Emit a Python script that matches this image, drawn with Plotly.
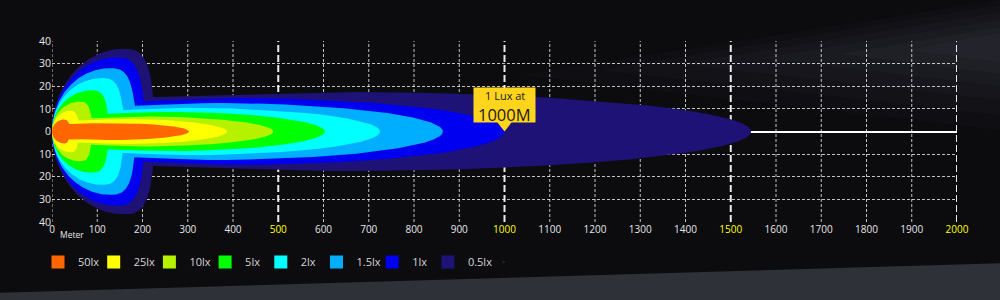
import numpy as np
import plotly.graph_objects as go

# ---------------- data ----------------
lux_labels = ["50lx", "25lx", "10lx", "5lx", "2lx", "1.5lx", "1lx", "0.5lx"]
lux_colors = ["#ff6600", "#ffff00", "#b6f200", "#00ff00", "#00ffff", "#00aeff", "#0000f0", "#1e1276"]
beam_reach_m = [303, 387, 489, 603, 725, 864, 1000, 1545]          # far reach of each isolux line
beam_half_width_m = [3.8, 5.5, 6.6, 8.7, 10.5, 12.6, 14.8, 17.5]   # half width of the long beam
spread_reach_m = [38, 58, 87, 124, 157, 183, 203, 225]             # reach of the near-field spread
spread_half_width_m = [5.3, 9.2, 13.2, 18.2, 23.6, 28.0, 32.8, 36.6]

x_ticks = list(range(0, 2001, 100))
y_ticks = [-40, -30, -20, -10, 0, 10, 20, 30, 40]
highlight_ticks = [500, 1000, 1500, 2000]
callout_level = "1lx"

# ---------------- layout constants ----------------
W_PX, H_PX = 1000, 300
ML, MR, MT, MB = 52, 43, 41, 78
PW = W_PX - ML - MR
PH = H_PX - MT - MB
FONT = "Open Sans"


def px_x(px):
    return (px - ML) / PW


def px_y(py):
    return (H_PX - MB - py) / PH


def isolux_outline(reach, half_w, s_reach, s_half):
    """Outline of one isolux contour built from its measured extents."""
    cx = 0.7 * s_reach
    a_left = cx
    a_right = s_reach - cx
    th = np.linspace(np.pi, np.pi / 2, 160)
    xl = cx + a_left * np.cos(th)
    yl = s_half * np.sin(th)
    xr = np.linspace(cx, reach, 1600)
    head = np.where(xr <= s_reach,
                    s_half * np.clip(1 - ((xr - cx) / a_right) ** 3, 0, 1) ** (1 / 3), 0.0)
    tc = 0.4 * reach
    tail = np.where(xr >= tc,
                    half_w * np.sqrt(np.clip(1 - ((xr - tc) / (reach - tc)) ** 2, 0, 1)),
                    half_w * (1 - 0.2 * (tc - xr) / tc))
    yr = np.maximum(head, tail)
    xu = np.concatenate([xl, xr[1:]])
    yu = np.concatenate([yl, yr[1:]])
    return np.concatenate([xu, xu[::-1]]), np.concatenate([yu, -yu[::-1]])


fig = go.Figure()

# beam contours, widest first
for i in reversed(range(len(lux_labels))):
    x, y = isolux_outline(beam_reach_m[i], beam_half_width_m[i],
                          spread_reach_m[i], spread_half_width_m[i])
    fig.add_trace(go.Scatter(x=x, y=y, mode="lines", fill="toself",
                             fillcolor=lux_colors[i], line=dict(width=0, color=lux_colors[i]),
                             showlegend=False, hoverinfo="skip"))

# legend entries
for i, (lab, col) in enumerate(zip(lux_labels, lux_colors)):
    fig.add_trace(go.Scatter(x=[None], y=[None], mode="markers", name=lab,
                             marker=dict(symbol="square", size=13, color=col, line=dict(width=0)),
                             legendrank=i + 1))
# empty spacer entry so the last legend label is not clipped
fig.add_trace(go.Scatter(x=[None], y=[None], mode="markers", name=" ",
                         marker=dict(symbol="square", size=1, opacity=0),
                         legendrank=len(lux_labels) + 1, hoverinfo="skip"))

shapes = []
# background: soft light streak in the upper right
streaks = [
    ([(520, 75), (1000, 0), (1000, 130)], 0.025),
    ([(600, 70), (1000, 5), (1000, 115)], 0.025),
    ([(680, 64), (1000, 12), (1000, 100)], 0.03),
    ([(760, 58), (1000, 20), (1000, 86)], 0.03),
    ([(840, 54), (1000, 27), (1000, 74)], 0.035),
    ([(910, 50), (1000, 33), (1000, 62)], 0.035),
]
for pts, op in streaks:
    p = "M" + " L".join(f"{px_x(a)},{px_y(b)}" for a, b in pts) + " Z"
    shapes.append(dict(type="path", xref="paper", yref="paper", layer="below",
                       path=p, fillcolor="#a8aec0", opacity=op, line=dict(width=0)))
# bottom floor band
shapes.append(dict(type="path", xref="paper", yref="paper", layer="below",
                   path=f"M{px_x(-5)},{px_y(293)} L{px_x(1005)},{px_y(263)} "
                        f"L{px_x(1005)},{px_y(305)} L{px_x(-5)},{px_y(305)} Z",
                   fillcolor="#2f3138", line=dict(width=0)))

# vertical grid lines
for v in x_ticks:
    major = v in highlight_ticks
    shapes.append(dict(type="line", xref="x", yref="y", layer="below",
                       x0=v, x1=v, y0=y_ticks[0], y1=y_ticks[-1],
                       line=dict(color="rgba(255,255,255,0.92)" if major else "rgba(255,255,255,0.75)",
                                 width=2 if major else 1,
                                 dash="7px,3px" if major else "3px,2px")))

# callout box with pointer, anchored at the 1 lx reach
ci = lux_labels.index(callout_level)
shapes.append(dict(type="path", xref="x", yref="y", xsizemode="pixel", ysizemode="pixel",
                   xanchor=beam_reach_m[ci], yanchor=0, layer="above",
                   path="M0,0 L7,9 L31,9 L31,44 L-31,44 L-31,9 L-7,9 Z",
                   fillcolor="#ffd41c", line=dict(width=0)))

x_text = []
for v in x_ticks:
    if v == 0:
        x_text.append("0")
    elif v in highlight_ticks:
        x_text.append(f"<span style='color:#ffff00'>{v}</span>")
    else:
        x_text.append(str(v))

fig.update_layout(
    width=W_PX, height=H_PX,
    margin=dict(l=ML, r=MR, t=MT, b=MB, pad=0),
    paper_bgcolor="#0c0c0f", plot_bgcolor="rgba(0,0,0,0)",
    font=dict(family=FONT, color="#e6e6e6", size=10),
    shapes=shapes,
    showlegend=True,
    legend=dict(orientation="h", x=px_x(38), xanchor="left", y=px_y(262), yanchor="middle",
                font=dict(family=FONT, size=11, color="#d6d6d6"),
                bgcolor="rgba(0,0,0,0)", entrywidth=10.7, entrywidthmode="pixels",
                itemclick=False, itemdoubleclick=False),
    annotations=[
        dict(x=beam_reach_m[ci], y=0, xref="x", yref="y", showarrow=False,
             yanchor="middle", yshift=36, text="1 Lux at", borderpad=0,
             font=dict(family=FONT, size=11, color="#1a1a1a")),
        dict(x=beam_reach_m[ci], y=0, xref="x", yref="y", showarrow=False,
             yanchor="middle", yshift=17.5, text=f"{beam_reach_m[ci]}M", borderpad=0,
             font=dict(family=FONT, size=16.5, color="#1a1a1a")),
        dict(x=0, y=0, xref="x", yref="paper", showarrow=False, xanchor="left",
             yanchor="top", xshift=6, yshift=-5, text="Meter",
             font=dict(family=FONT, size=8.5, color="#e6e6e6")),
    ],
)

fig.update_xaxes(range=[0, 2000], tickmode="array", tickvals=x_ticks, ticktext=x_text,
                 showgrid=False, zeroline=False, showline=False, ticks="",
                 tickfont=dict(family=FONT, size=10, color="#e6e6e6"), fixedrange=True)
fig.update_yaxes(range=[-40, 40], tickmode="array", tickvals=y_ticks,
                 ticktext=[str(abs(v)) for v in y_ticks],
                 showgrid=True, gridcolor="rgba(255,255,255,0.75)", gridwidth=1, griddash="3px,2px",
                 zeroline=True, zerolinecolor="#ffffff", zerolinewidth=2,
                 showline=False, ticks="", tickfont=dict(family=FONT, size=10.5, color="#e6e6e6"),
                 fixedrange=True)

fig.write_html("out.html")
